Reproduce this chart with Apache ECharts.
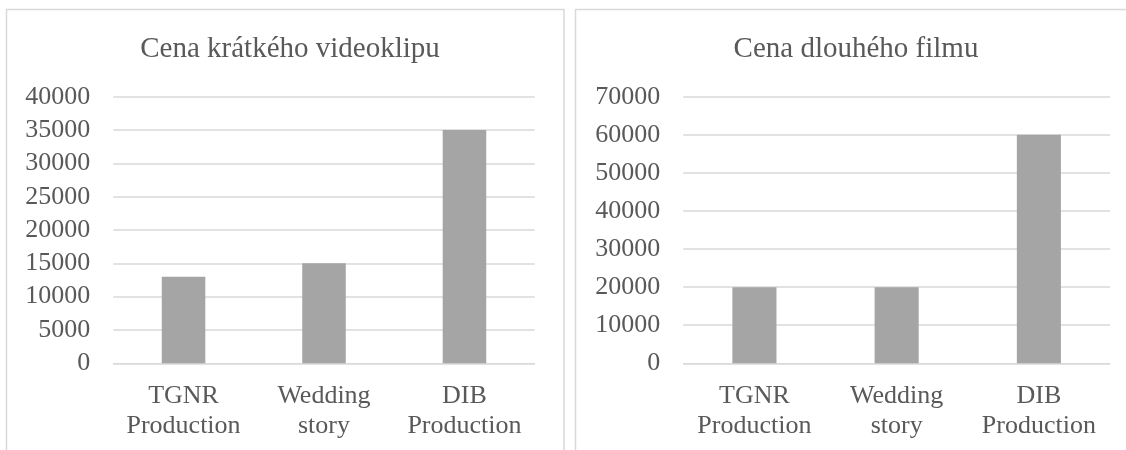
<!DOCTYPE html>
<html>
<head>
<meta charset="utf-8">
<script src="https://cdn.jsdelivr.net/npm/echarts@6/dist/echarts.min.js"></script>
<style>
html,body{margin:0;padding:0;background:#fff;}
#c{width:1126px;height:450px;}
</style>
</head>
<body>
<div id="c"></div>
<script>
const categories = ['TGNR\nProduction', 'Wedding\nstory', 'DIB\nProduction'];
const shortClipPrices = [13000, 15000, 35000];
const longFilmPrices = [20000, 20000, 60000];
const titles = ['Cena krátkého videoklipu', 'Cena dlouhého filmu'];

const FONT = "'Times New Roman', 'Liberation Serif', 'DejaVu Serif', serif";
const TXT = '#595959';
const GRID = '#D9D9D9';
const BAR = '#A5A5A5';

const chart = echarts.init(document.getElementById('c'), null, {renderer: 'canvas'});

function xAx(gi) {
  return {
    type: 'category', gridIndex: gi, data: categories,
    axisLine: {show: true, lineStyle: {color: GRID, width: 1}},
    axisTick: {show: false},
    axisLabel: {color: TXT, fontFamily: FONT, fontSize: 26, lineHeight: 30, margin: 18, interval: 0}
  };
}
function yAx(gi, max, interval) {
  return {
    type: 'value', gridIndex: gi, min: 0, max: max, interval: interval,
    axisLine: {show: false}, axisTick: {show: false},
    splitLine: {show: true, lineStyle: {color: GRID, width: 1.5}},
    axisLabel: {color: TXT, fontFamily: FONT, fontSize: 26, margin: 23,
                formatter: function (v) { return String(v); }}
  };
}

chart.setOption({
  animation: false,
  title: [
    {text: titles[0], left: 285, top: 30, textAlign: 'center',
     textStyle: {color: TXT, fontFamily: FONT, fontSize: 29, fontWeight: 'normal'}},
    {text: titles[1], left: 851, top: 30, textAlign: 'center',
     textStyle: {color: TXT, fontFamily: FONT, fontSize: 29, fontWeight: 'normal'}}
  ],
  graphic: [
    {type: 'rect', shape: {x: 6.5, y: 9.5, width: 557.5, height: 460},
     style: {fill: 'none', stroke: GRID, lineWidth: 1.5}, silent: true},
    {type: 'rect', shape: {x: 575.5, y: 9.5, width: 560, height: 460},
     style: {fill: 'none', stroke: GRID, lineWidth: 1.5}, silent: true}
  ],
  grid: [
    {left: 113.3, right: 591.3, top: 96.7, bottom: 86.7},
    {left: 683.3, right: 16, top: 96.7, bottom: 86.7}
  ],
  xAxis: [xAx(0), xAx(1)],
  yAxis: [yAx(0, 40000, 5000), yAx(1, 70000, 10000)],
  series: [
    {type: 'bar', xAxisIndex: 0, yAxisIndex: 0, data: shortClipPrices,
     barCategoryGap: '69%', itemStyle: {color: BAR}},
    {type: 'bar', xAxisIndex: 1, yAxisIndex: 1, data: longFilmPrices,
     barCategoryGap: '69%', itemStyle: {color: BAR}}
  ]
});
</script>
</body>
</html>
